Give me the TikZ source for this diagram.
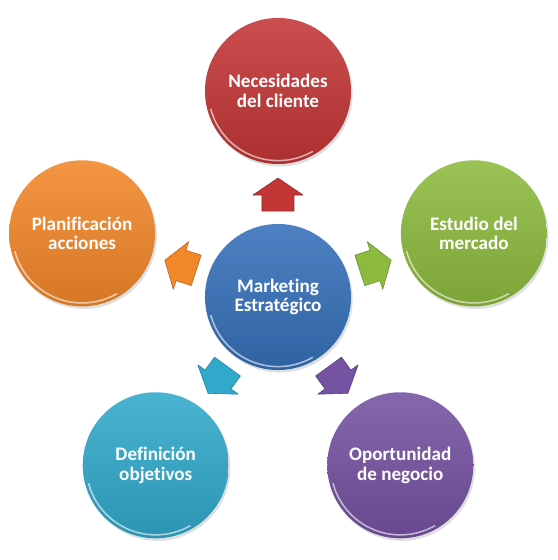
\documentclass[tikz,border=0pt]{standalone}
\usepackage{fontspec}
\setmainfont[Ligatures=NoCommon, Contextuals=NoAlternate]{Carlito}
\usepackage{tikz}
\usetikzlibrary{shadows,calc}

\definecolor{blueC}{HTML}{3670BA}
\definecolor{redC}{HTML}{C43636}
\definecolor{greenC}{HTML}{8DBA3E}
\definecolor{orangeC}{HTML}{F2872A}
\definecolor{cyanC}{HTML}{31A9CB}
\definecolor{purpleC}{HTML}{7552A2}

\tikzset{
  bubble/.style={circle, minimum size=3.65cm, inner sep=0pt, align=center, text=white,
    font=\fontsize{13.6}{13.8}\selectfont\bfseries,
    top color=#1!88!white, bottom color=#1!88!black,
    drop shadow={opacity=0.25, shadow xshift=1.2pt, shadow yshift=-1.8pt}},
  blockarrow/.style={fill=#1, draw=#1!75!black, line width=0.4pt, line join=round},
  rim/.style={white, opacity=0.6, line width=1.1pt}
}

\begin{document}
\begin{tikzpicture}[x=0.025cm, y=0.025cm]
    \useasboundingbox (-278,-263) rectangle (280,297);

    % Centre circle
    \node[bubble=blueC] (mark) at (0,0) {Marketing\\Estrat\'egico};

    % Outer circles (pentagon)
    \node[bubble=redC]    (nec) at (90:206)  {Necesidades\\del cliente};
    \node[bubble=greenC]  (est) at (18:206)  {Estudio del\\mercado};
    \node[bubble=orangeC] (pla) at (162:206) {Planificaci\'on\\acciones};
    \node[bubble=cyanC]   (def) at (234:208) {Definici\'on\\objetivos};
    \node[bubble=purpleC] (opo) at (306:208) {Oportunidad\\de negocio};

    % Glossy rims
    \foreach \n in {mark,nec,est,pla,def,opo}
        \draw[rim] ($(\n.center)+(195:1.74cm)$) arc[start angle=195, end angle=300, radius=1.74cm];

    % Block arrows from the centre
    \foreach \a/\c in {90/redC, 18/greenC, 162/orangeC, 234/cyanC, 306/purpleC} {
        \begin{scope}[shift={(mark.center)}, rotate=\a]
            \draw[blockarrow=\c] (86,-16) -- (102,-16) -- (102,-25) -- (119,0)
                -- (102,25) -- (102,16) -- (86,16) -- cycle;
        \end{scope}
    }
\end{tikzpicture}
\end{document}
